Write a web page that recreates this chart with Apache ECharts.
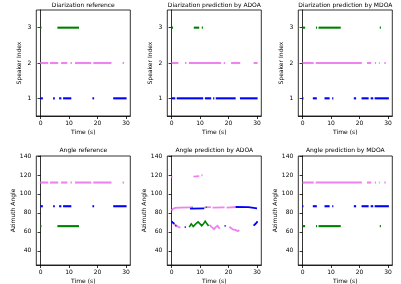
<!DOCTYPE html>
<html><head><meta charset="utf-8">
<script src="https://cdn.jsdelivr.net/npm/echarts@6/dist/echarts.min.js"></script>
<style>html,body{margin:0;padding:0;background:#fff}#c{width:401px;height:284px}</style>
</head><body><div id="c"></div><script>
// ---- tick labels ----
const timeTicks = [0, 10, 20, 30];
const speakerTicks = [1, 2, 3];
const angleTicks = [40, 60, 80, 100, 120, 140];
const titles = ['Diarization reference', 'Diarization prediction by ADOA', 'Diarization prediction by MDOA',
                'Angle reference', 'Angle prediction by ADOA', 'Angle prediction by MDOA'];

// ---- diarization segments [start, end] (s) per speaker ----
const refSpk1 = [[-0.1,0.8],[4.4,5.0],[6.5,7.3],[7.9,10.8],[18.2,18.8],[25.5,30.2]];
const refSpk2 = [[-0.1,2.7],[3.3,6.2],[7.2,9.4],[10.5,11.0],[12.1,17.8],[18.5,24.9],[28.8,29.3]];
const refSpk3 = [[-0.1,0.3],[5.9,13.5]];

const adoaSpk1 = [[0,1.3],[1.8,11.1],[11.7,13.9],[14.6,15.0],[15.5,22.5],[24.0,30.2]];
const adoaSpk2 = [[0,2.4],[4.7,5.2],[6.1,17.4],[18.3,18.8],[20.9,24.1],[28.8,30.2]];
const adoaSpk3 = [[0,0.5],[7.8,9.7],[10.6,11.0]];

const mdoaSpk1 = [[-0.1,0.3],[3.6,5.0],[7.7,9.5],[10.4,10.8],[18.0,18.8],[20.7,23.2],[23.9,24.8],[25.3,30.3]];
const mdoaSpk2 = [[0,3.9],[4.6,20.8],[22.6,24.1],[25.4,25.8],[26.8,27.1],[28.7,29.2]];
const mdoaSpk3 = [[0,0.9],[4.7,5.1],[5.6,13.4],[27.1,27.5]];

// ---- azimuth angles per speaker ----
const refAngles = [87, 112, 66];   // speaker 1, 2, 3
const mdoaAngles = [87, 112, 66];

// ---- ADOA angle predictions: polylines of [t, angle] ----
const adoaAnglePink = [
  [[-0.1,118],[0.3,118]],
  [[7.7,118.3],[9.7,118.8]],
  [[10.5,119.7],[10.9,119.7]],
  [[0,82.5],[0.5,84.2],[1.2,85.2],[3,85.6],[6.8,85.8]],
  [[11.5,85.8],[13.8,86]],
  [[14.4,85.6],[18.6,85.8]],
  [[19.3,85.6],[23,86.2]],
  [[0.8,68.5],[1.6,66.5],[2.4,65.2],[3.1,64.5]],
  [[13.3,67.4],[14.1,65],[14.9,62.8],[15.5,65],[16.1,66.3],[16.9,63.2]],
  [[20.3,65.3],[21.5,62.5],[22.6,61.8],[23.2,60.7],[23.8,61.8]]
];
const adoaAngleBlue = [
  [[0,71],[0.5,69.5],[1,68.5]],
  [[1.3,66.5],[1.7,66.5]],
  [[4.6,65],[5,65]],
  [[18.6,66.3],[19,66.3]],
  [[28.8,66.5],[29.5,68.5],[30.2,71]],
  [[6.5,84.5],[11.5,84.8]],
  [[22.5,86.2],[27,86],[30,84.8]]
];
const adoaAngleGreen = [
  [[6.2,64.9],[6.9,68.4],[7.6,65.6],[8.5,68.4],[9.3,70.5],[10,68.4],[10.6,66.3],[11.2,68.4],[11.8,71.2],[12.4,68.4],[13,66.3]],
  [[7,86],[7.4,86]],
  [[12,86],[12.4,86]]
];

const C1 = '#0000ff', C2 = '#ee82ee', C3 = '#008000';
const FONT = 'DejaVu Sans';

const lefts = [36.3, 167.3, 298.3];
const W = 94;
const tops = [10, 156];
const Hs = [106, 109];

function segs(list, y) { return list.map(s => ({coords: [[s[0], y], [s[1], y]]})); }
function polys(list) { return list.map(p => ({coords: p})); }

const grids = [], xAxes = [], yAxes = [], series = [], titleArr = [];
for (let i = 0; i < 6; i++) {
  const r = Math.floor(i / 3), c = i % 3;
  grids.push({left: lefts[c], top: tops[r], width: W, height: Hs[r], show: true,
    borderColor: '#000', borderWidth: 0.8, backgroundColor: '#fff', outerBoundsMode: 'none', containLabel: false});
  xAxes.push({type: 'value', gridIndex: i, min: -1.5, max: 31.5,
    name: 'Time (s)', nameLocation: 'middle', nameGap: 13,
    nameTextStyle: {fontFamily: FONT, fontSize: 6, color: '#000'},
    axisLine: {lineStyle: {color: '#000', width: 0.8}},
    axisTick: {customValues: timeTicks, length: 3, lineStyle: {color: '#000', width: 0.8}},
    axisLabel: {customValues: timeTicks, fontFamily: FONT, fontSize: 6, color: '#000', margin: 4},
    splitLine: {show: false}});
  const top = r === 0;
  yAxes.push({type: 'value', gridIndex: i, min: top ? 0.5 : 25, max: top ? 3.5 : 140,
    name: top ? 'Speaker Index' : 'Azimuth Angle', nameLocation: 'middle', nameGap: top ? 14 : 18,
    nameTextStyle: {fontFamily: FONT, fontSize: 6, color: '#000'},
    axisLine: {lineStyle: {color: '#000', width: 0.8}},
    axisTick: {customValues: top ? speakerTicks : angleTicks, length: 3, lineStyle: {color: '#000', width: 0.8}},
    axisLabel: {customValues: top ? speakerTicks : angleTicks, fontFamily: FONT, fontSize: 6, color: '#000', margin: 5},
    splitLine: {show: false}});
  titleArr.push({text: titles[i], left: lefts[c] + W / 2, top: r === 0 ? 2 : 147, textAlign: 'center', padding: 0,
    textStyle: {fontFamily: FONT, fontSize: 6, fontWeight: 'normal', color: '#000'}});
}

function addLines(idx, data, color, w) {
  series.push({type: 'lines', coordinateSystem: 'cartesian2d', polyline: true,
    xAxisIndex: idx, yAxisIndex: idx, data: data, silent: true,
    lineStyle: {color: color, width: w || 2.1, opacity: 1, cap: 'butt'}});
}
// diarization
[[refSpk1, refSpk2, refSpk3], [adoaSpk1, adoaSpk2, adoaSpk3], [mdoaSpk1, mdoaSpk2, mdoaSpk3]].forEach((set, i) => {
  addLines(i, segs(set[1], 2), C2);
  addLines(i, segs(set[0], 1), C1);
  addLines(i, segs(set[2], 3), C3);
});
// angle reference
addLines(3, segs(refSpk2, refAngles[1]), C2);
addLines(3, segs(refSpk1, refAngles[0]), C1);
addLines(3, segs(refSpk3, refAngles[2]), C3);
// angle ADOA
addLines(4, polys(adoaAnglePink), C2, 1.8);
addLines(4, polys(adoaAngleBlue), C1, 1.8);
addLines(4, polys(adoaAngleGreen), C3, 1.6);
// angle MDOA
addLines(5, segs(mdoaSpk2, mdoaAngles[1]), C2);
addLines(5, segs(mdoaSpk1, mdoaAngles[0]), C1);
addLines(5, segs(mdoaSpk3, mdoaAngles[2]), C3);

const chart = echarts.init(document.getElementById('c'), null, {renderer: 'canvas'});
chart.setOption({animation: false, backgroundColor: '#fff', title: titleArr,
  grid: grids, xAxis: xAxes, yAxis: yAxes, series: series});
</script></body></html>
